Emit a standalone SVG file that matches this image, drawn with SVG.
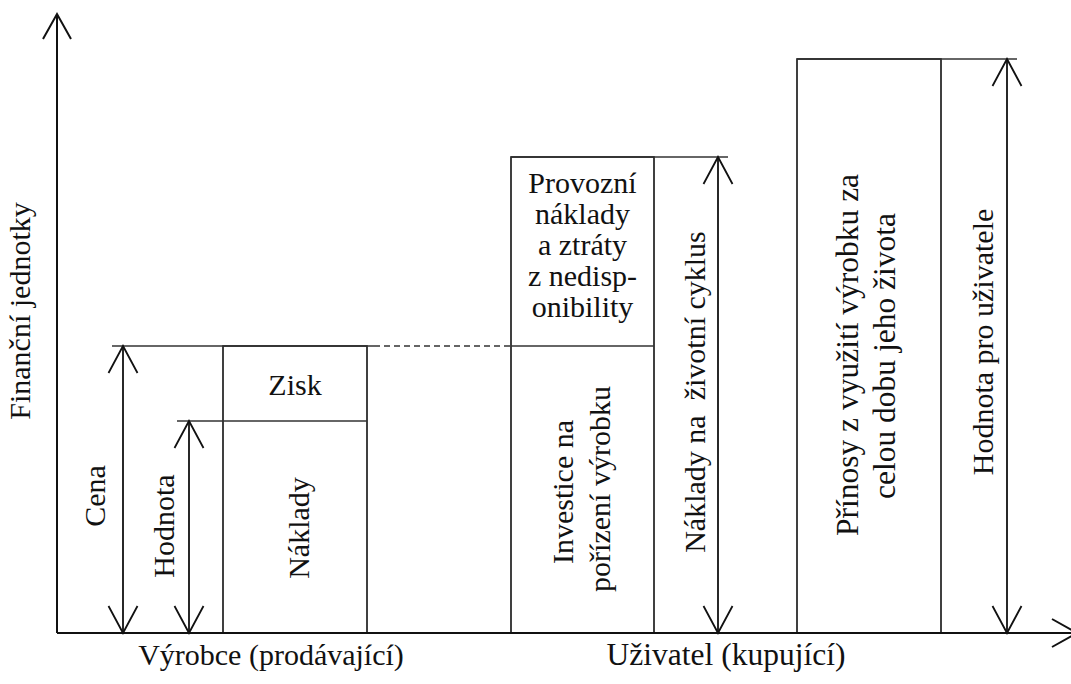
<svg xmlns="http://www.w3.org/2000/svg" width="1071" height="684" viewBox="0 0 1071 684">
<style>
text{font-family:'Liberation Serif','Times New Roman',serif;font-size:30px;fill:#111}
.m{text-anchor:middle}
.big{font-size:31.5px}
.box{fill:none;stroke:#111;stroke-width:1.6}
.ln{fill:none;stroke:#333;stroke-width:1.6}
.ax{fill:none;stroke:#111;stroke-width:2}
.dim{fill:none;stroke:#111;stroke-width:1.8;marker-start:url(#ah);marker-end:url(#ah)}
</style>
<defs>
<marker id="ah" markerUnits="userSpaceOnUse" markerWidth="40" markerHeight="40" refX="0" refY="0" viewBox="-30 -20 40 40" orient="auto-start-reverse" overflow="visible">
<path d="M-27,-14.5 L0,0 L-27,14.5" fill="none" stroke="#111" stroke-width="1.8"/>
</marker>
<marker id="axh" markerUnits="userSpaceOnUse" markerWidth="40" markerHeight="40" refX="0" refY="0" viewBox="-30 -20 40 40" orient="auto" overflow="visible">
<path d="M-25,-14 L0,0 L-25,14" fill="none" stroke="#111" stroke-width="2"/>
</marker>
</defs>
<rect width="1071" height="684" fill="#fff"/>
<g id="axes">
<line class="ax" x1="57" y1="633" x2="57" y2="14" marker-end="url(#axh)"/>
<line class="ax" x1="57" y1="633" x2="1077" y2="633" marker-end="url(#axh)"/>
<text transform="translate(30,311) rotate(-90)" class="m">Finanční jednotky</text>
<text x="271" y="665" class="m">Výrobce (prodávající)</text>
<text x="726" y="665" class="m big">Uživatel (kupující)</text>
</g>
<g id="vyrobce-box">
<rect class="box" x="223" y="346" width="144" height="287"/>
<line class="ln" x1="112" y1="346" x2="374" y2="346"/>
<line class="ln" x1="177" y1="421" x2="367" y2="421"/>
<text x="295" y="395" class="m">Zisk</text>
<text transform="translate(309,528) rotate(-90)" class="m">Náklady</text>
</g>
<g id="uzivatel-naklady-box">
<rect class="box" x="511" y="157" width="143" height="476"/>
<line class="ln" x1="511" y1="157" x2="728" y2="157"/>
<line class="ln" x1="511" y1="346" x2="654" y2="346"/>
<text class="m"><tspan x="582.5" y="193">Provozní</tspan><tspan x="582.5" y="224">náklady</tspan><tspan x="582.5" y="255">a ztráty</tspan><tspan x="582.5" y="286">z nedisp-</tspan><tspan x="582.5" y="317">onibility</tspan></text>
<text transform="translate(573,492) rotate(-90)" class="m">Investice na</text>
<text transform="translate(610,489) rotate(-90)" class="m">pořízení výrobku</text>
</g>
<g id="prinosy-box">
<rect class="box" x="797" y="59" width="144" height="574"/>
<line class="ln" x1="797" y1="59" x2="1017" y2="59"/>
<text transform="translate(858,355) rotate(-90)" class="m big">Přínosy z využití výrobku za</text>
<text transform="translate(895,356) rotate(-90)" class="m big">celou dobu jeho života</text>
</g>
<g id="connectors">
<line class="ln" x1="374" y1="346" x2="511" y2="346" stroke-dasharray="6,4"/>
<line class="dim" x1="123" y1="633" x2="123" y2="346"/>
<line class="dim" x1="189" y1="633" x2="189" y2="421"/>
<line class="dim" x1="718" y1="633" x2="718" y2="157"/>
<line class="dim" x1="1007" y1="633" x2="1007" y2="59"/>
</g>
<g id="labels">
<text transform="translate(105,496) rotate(-90)" class="m">Cena</text>
<text transform="translate(174,526) rotate(-90)" class="m">Hodnota</text>
<text transform="translate(705,392) rotate(-90)" class="m" style="white-space:pre">Náklady na  životní cyklus</text>
<text transform="translate(993,342) rotate(-90)" class="m">Hodnota pro uživatele</text>
</g>
</svg>
